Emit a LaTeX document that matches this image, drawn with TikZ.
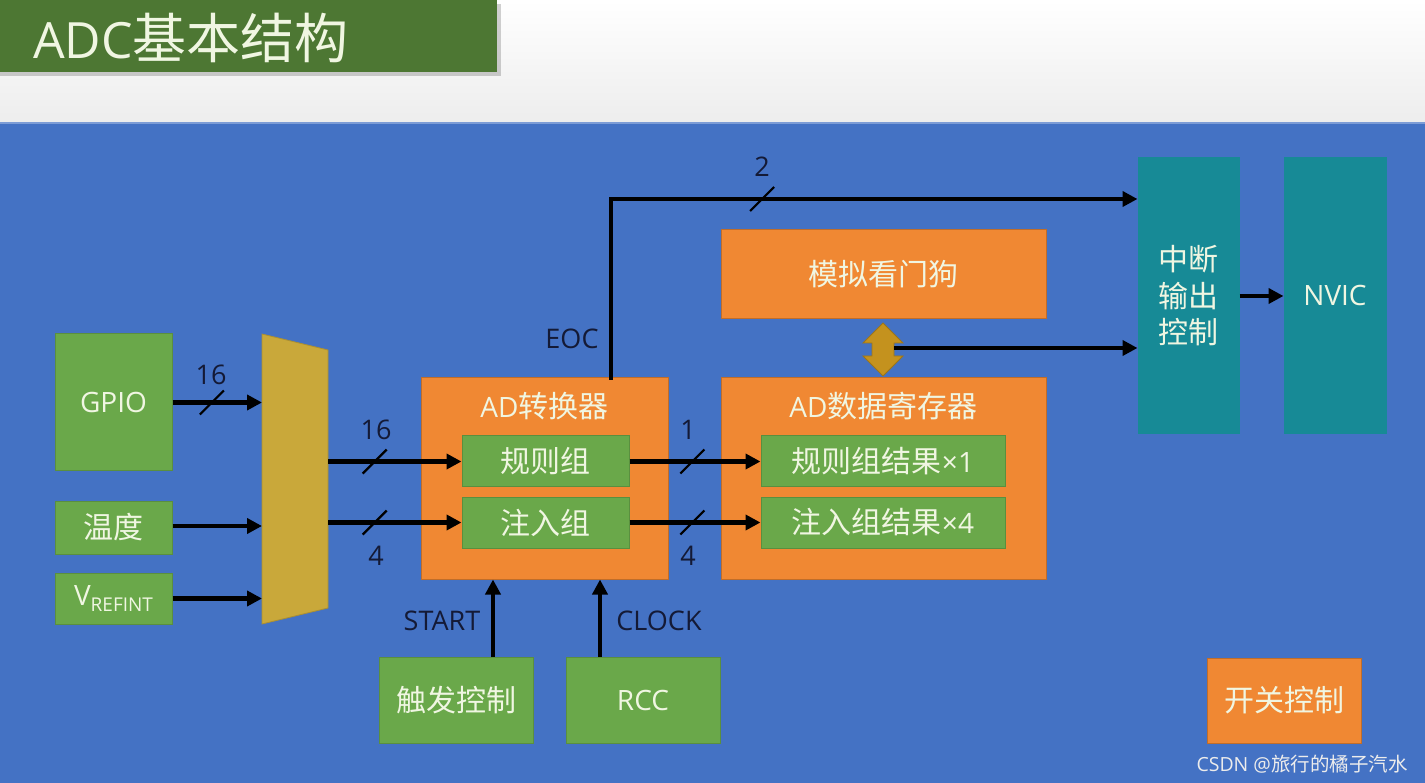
\documentclass[tikz,border=0pt]{standalone}
\usepackage{fontspec}
\setmainfont{Noto Sans CJK SC}
\newfontfamily\lat{Open Sans}
\newcommand\latt[1]{{\lat\fontsize{28}{32}\selectfont #1}}
\usetikzlibrary{arrows.meta}
\definecolor{bgblue}{HTML}{4472C4}
\definecolor{grn}{HTML}{6AA84A}
\definecolor{titlegrn}{HTML}{4D7733}
\definecolor{org}{HTML}{F08833}
\definecolor{teal}{HTML}{178A96}
\definecolor{muxgold}{HTML}{C9A83A}
\definecolor{wdgold}{HTML}{C4921E}
\definecolor{txt}{HTML}{F0F6E2}
\definecolor{lbl}{HTML}{141A36}
\tikzset{
  box/.style={inner sep=0pt, line width=1pt, font=\fontsize{30}{36.5}\selectfont, text=txt, align=center},
  gbox/.style={box, fill=grn, draw=grn!85!black},
  obox/.style={box, fill=org, draw=org!80!black},
  tbox/.style={box, fill=teal, draw=teal},
  arr/.style={line width=4.2pt, draw=black, -{Triangle[length=15pt,width=15pt]}},
  plain/.style={line width=4.2pt, draw=black},
  lbl/.style={inner sep=0pt, text=lbl, font=\lat\fontsize{27}{32}\selectfont},
  slash/.pic={\draw[-, line width=2.2pt, black] (-12,12) -- (12,-12);}
}
\begin{document}
\begin{tikzpicture}[x=1pt,y=-1pt]
\useasboundingbox (0,0) rectangle (1425,783);
% header band
\fill[top color=white, bottom color=gray!14] (0,0) rectangle (1425,122);
\fill[black, opacity=0.18] (0,4) rectangle (501,76);
\fill[titlegrn] (0,0) rectangle (497,72);
\node[inner sep=0pt, anchor=west, text=txt, font=\fontsize{54}{56}\selectfont] (title) at (33,38) {{\lat\fontsize{50}{56}\selectfont ADC}基本结构};
% blue background
\fill[bgblue] (0,122) rectangle (1425,783);
\draw[bgblue!70!white, line width=1.5pt] (0,123) -- (1425,123);

% inputs
\node[gbox, minimum width=117pt, minimum height=137pt] (gpio) at (113.5,402.5) {\latt{GPIO}};
\node[gbox, minimum width=117pt, minimum height=53pt] (temp) at (113.5,527.5) {温度};
\node[gbox, minimum width=117pt, minimum height=51pt] (vref) at (113.5,598.5) {\latt{V{\fontsize{19}{20}\selectfont\raisebox{-6pt}{REFINT}}}};

% mux
\coordinate (muxTL) at (262,334);
\coordinate (muxTR) at (328,350);
\coordinate (muxBR) at (328,608);
\coordinate (muxBL) at (262,624);
\fill[muxgold, draw=muxgold!85!black, line width=0.8pt] (muxTL) -- (muxTR) -- (muxBR) -- (muxBL) -- cycle;

\draw[arr] (gpio.east) -- pic[pos=0.44]{slash} (gpio.east -| muxTL);
\node[lbl] (l16a) at (211,375) {16};
\draw[arr] (temp.east |- 0,526) -- (muxTL |- 0,526);
\draw[arr] (vref.east) -- (vref.east -| muxTL);

% AD converter
\node[obox, minimum width=247pt, minimum height=201pt] (adc) at (544.5,478.5) {};
\node[box, inner sep=0pt] (adct) at (544.5,406) {\latt{AD}转换器};
\node[gbox, minimum width=167pt, minimum height=51pt] (rule) at (545.5,461.5) {规则组};
\node[gbox, minimum width=167pt, minimum height=51pt] (inj) at (545.5,522.5) {注入组};

\draw[arr] (muxTR |- rule.west) -- pic[pos=0.35]{slash} (rule.west);
\node[lbl] (l16b) at (376,430) {16};
\draw[arr] (muxTR |- inj.west) -- pic[pos=0.35]{slash} (inj.west);
\node[lbl] (l4a) at (376,556) {4};

% AD data register
\node[obox, minimum width=325pt, minimum height=201pt] (reg) at (883.5,478.5) {};
\node[box, inner sep=0pt] (regt) at (883.5,406) {\latt{AD}数据寄存器};
\node[gbox, minimum width=244pt, minimum height=51pt] (ruler) at (883,461.5) {规则组结果\latt{×1}};
\node[gbox, minimum width=244pt, minimum height=51pt] (injr) at (883,522.5) {注入组结果\latt{×4}};

\draw[arr] (rule.east) -- pic[pos=0.48]{slash} (ruler.west);
\node[lbl] (l1) at (688,430) {1};
\draw[arr] (inj.east) -- pic[pos=0.48]{slash} (injr.west);
\node[lbl] (l4b) at (688,556) {4};

% watchdog
\node[obox, minimum width=325pt, minimum height=89pt] (wdog) at (883.5,274.5) {模拟看门狗};
\fill[wdgold, draw=wdgold!80!black, line width=0.8pt]
  (883,323) -- (903,343) -- (894,343) -- (894,356) -- (903,356) -- (883,376)
  -- (863,356) -- (872,356) -- (872,343) -- (863,343) -- cycle;
\coordinate (dblarr) at (894,348);

% interrupt and NVIC
\node[tbox, minimum width=101pt, minimum height=276pt] (int) at (1188.5,296) {中断\\输出\\控制};
\node[tbox, minimum width=102pt, minimum height=276pt] (nvic) at (1335,296) {\latt{NVIC}};
\draw[arr] (int.east) -- (nvic.west);
\draw[arr] (dblarr) -- (int.west |- dblarr);

% EOC
\coordinate (eocx) at (611,199);
\draw[plain, line cap=rect] (eocx |- adc.north) -- (eocx);
\draw[arr] (eocx) -- pic[pos=0.287]{slash} (int.west |- eocx);
\node[lbl] (l2) at (762,167) {2};
\node[lbl] (eoc) at (572,339) {EOC};

% trigger and RCC
\node[gbox, minimum width=154pt, minimum height=86pt] (trig) at (456,700) {触发控制};
\node[gbox, minimum width=154pt, minimum height=86pt] (rcc) at (643,700) {\latt{RCC}};
\coordinate (startx) at (493,657);
\coordinate (clockx) at (600,657);
\draw[arr] (startx) -- (startx |- adc.south);
\draw[arr] (clockx) -- (clockx |- adc.south);
\node[lbl] (start) at (442,621) {START};
\node[lbl] (clock) at (659,621) {CLOCK};

% switch control
\node[obox, minimum width=154pt, minimum height=85pt] (sw) at (1284,700.5) {开关控制};

% watermark
\node[inner sep=0pt, text=gray!15, font=\fontsize{19.5}{22}\selectfont] (wm) at (1302,764) {{\lat CSDN @}旅行的橘子汽水};
\end{tikzpicture}
\end{document}
